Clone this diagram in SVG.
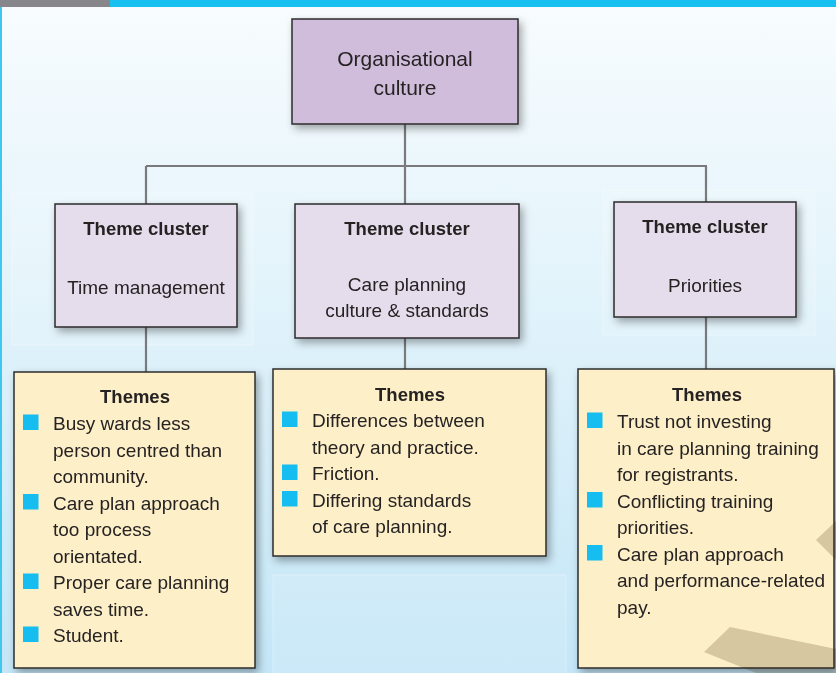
<svg xmlns="http://www.w3.org/2000/svg" width="836" height="673" viewBox="0 0 836 673">
<defs>
<linearGradient id="bg" x1="0" y1="0" x2="0" y2="1">
<stop offset="0" stop-color="#f8fcfe"/>
<stop offset="0.4" stop-color="#e4f4fb"/>
<stop offset="1" stop-color="#c4e6f7"/>
</linearGradient>
<filter id="sh" x="-10%" y="-10%" width="125%" height="130%">
<feGaussianBlur in="SourceAlpha" stdDeviation="4"/>
<feOffset dx="3" dy="4" result="b"/>
<feComponentTransfer><feFuncA type="linear" slope="0.35"/></feComponentTransfer>
<feMerge><feMergeNode/><feMergeNode in="SourceGraphic"/></feMerge>
</filter>
</defs>
<style>
.root{fill:#d0bcdb;stroke:#2b2b2b;stroke-width:1.5}
.cl{fill:#e5dcec;stroke:#2b2b2b;stroke-width:1.5}
.th{fill:#fdefc8;stroke:#2b2b2b;stroke-width:1.5}
.con{stroke:#7a7a7c;stroke-width:2.2;fill:none}
text{font-family:"Liberation Sans",Arial,sans-serif;fill:#262324}
.b{font-weight:bold;font-size:18.5px}
.t{font-size:19px}
.big{font-size:21px}
.c{text-anchor:middle}
.bul{fill:#14bdf0}
.ghost{fill:#ffffff;fill-opacity:0.12;stroke:#ffffff;stroke-opacity:0.35;stroke-width:1}
</style>
<rect x="0" y="0" width="836" height="673" fill="url(#bg)"/>
<rect x="0" y="0" width="110" height="7" fill="#87878b"/>
<rect x="110" y="0" width="726" height="7" fill="#16c0f1"/>
<rect x="0" y="7" width="2" height="666" fill="#3ec8f0"/>
<rect class="ghost" x="12" y="193" width="241" height="152"/>
<rect class="ghost" x="603" y="190" width="212" height="145"/>
<rect class="ghost" x="273" y="575" width="293" height="100"/>
<g id="connectors">
<path class="con" d="M405 124 V166 M146 166 H707 M146 166 V204 M405 166 V204 M706 166 V203"/>
<path class="con" d="M146 327 V372 M405 338 V369 M706 317 V369"/>
</g>
<g id="node-root" filter="url(#sh)">
<rect class="root" x="292" y="19" width="226" height="105"/>
<text class="big c" x="405" y="66">Organisational</text>
<text class="big c" x="405" y="95">culture</text>
</g>
<g id="node-cluster-time" filter="url(#sh)">
<rect class="cl" x="55" y="204" width="182" height="123"/>
<text class="b c" x="146" y="235">Theme cluster</text>
<text class="t c" x="146" y="294">Time management</text>
</g>
<g id="node-cluster-care" filter="url(#sh)">
<rect class="cl" x="295" y="204" width="224" height="134"/>
<text class="b c" x="407" y="235">Theme cluster</text>
<text class="t c" x="407" y="291">Care planning</text>
<text class="t c" x="407" y="317">culture &amp; standards</text>
</g>
<g id="node-cluster-priorities" filter="url(#sh)">
<rect class="cl" x="614" y="202" width="182" height="115"/>
<text class="b c" x="705" y="233">Theme cluster</text>
<text class="t c" x="705" y="292">Priorities</text>
</g>
<g id="node-themes-time" filter="url(#sh)">
<rect class="th" x="14" y="372" width="241" height="296"/>
<text class="b c" x="135" y="403">Themes</text>
<rect class="bul" x="23" y="414.5" width="15.5" height="15.5"/>
<rect class="bul" x="23" y="494" width="15.5" height="15.5"/>
<rect class="bul" x="23" y="573.5" width="15.5" height="15.5"/>
<rect class="bul" x="23" y="626.5" width="15.5" height="15.5"/>
<text class="t" x="53" y="430">Busy wards less</text>
<text class="t" x="53" y="456.5">person centred than</text>
<text class="t" x="53" y="483">community.</text>
<text class="t" x="53" y="509.5">Care plan approach</text>
<text class="t" x="53" y="536">too process</text>
<text class="t" x="53" y="562.5">orientated.</text>
<text class="t" x="53" y="589">Proper care planning</text>
<text class="t" x="53" y="615.5">saves time.</text>
<text class="t" x="53" y="642">Student.</text>
</g>
<g id="node-themes-care" filter="url(#sh)">
<rect class="th" x="273" y="369" width="273" height="187"/>
<text class="b c" x="410" y="401">Themes</text>
<rect class="bul" x="282" y="411.5" width="15.5" height="15.5"/>
<rect class="bul" x="282" y="464.5" width="15.5" height="15.5"/>
<rect class="bul" x="282" y="491" width="15.5" height="15.5"/>
<text class="t" x="312" y="427">Differences between</text>
<text class="t" x="312" y="453.5">theory and practice.</text>
<text class="t" x="312" y="480">Friction.</text>
<text class="t" x="312" y="506.5">Differing standards</text>
<text class="t" x="312" y="533">of care planning.</text>
</g>
<g id="node-themes-priorities" filter="url(#sh)">
<rect class="th" x="578" y="369" width="256" height="299"/>
<text class="b c" x="707" y="401">Themes</text>
<rect class="bul" x="587" y="412.5" width="15.5" height="15.5"/>
<rect class="bul" x="587" y="492" width="15.5" height="15.5"/>
<rect class="bul" x="587" y="545" width="15.5" height="15.5"/>
<text class="t" x="617" y="428">Trust not investing</text>
<text class="t" x="617" y="454.5">in care planning training</text>
<text class="t" x="617" y="481">for registrants.</text>
<text class="t" x="617" y="507.5">Conflicting training</text>
<text class="t" x="617" y="534">priorities.</text>
<text class="t" x="617" y="560.5">Care plan approach</text>
<text class="t" x="617" y="587">and performance-related</text>
<text class="t" x="617" y="613.5">pay.</text>
</g>
<g id="decor" fill="#3a2705" fill-opacity="0.2">
<polygon points="836,521 816,540 836,560"/>
<polygon points="704,652 730,627 836,649 836,673 756,673"/>
</g>
</svg>
